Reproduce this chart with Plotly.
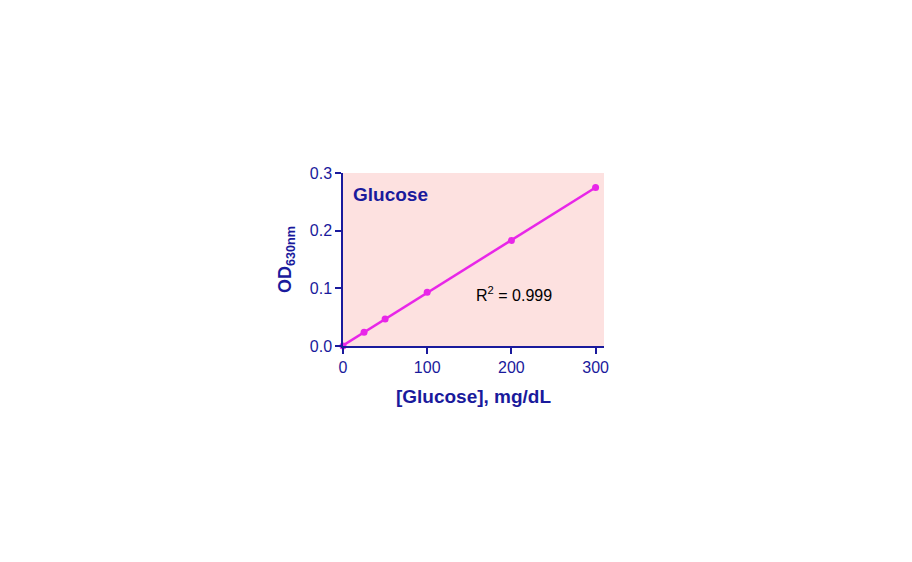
import numpy as np
import plotly.graph_objects as go

glucose = [0, 25, 50, 100, 200, 300]
od630 = [0.0, 0.024, 0.047, 0.093, 0.183, 0.275]
x_ticks = [0, 100, 200, 300]
y_ticks = [0.0, 0.1, 0.2, 0.3]
y_tick_labels = ["0.0", "0.1", "0.2", "0.3"]

slope, intercept = np.polyfit(glucose, od630, 1)
fit_x = [0, max(glucose)]
fit_y = [intercept + slope * v for v in fit_x]

blue = "#1a1a9c"
mag = "#e826e8"
font = "Liberation Sans, Arial, sans-serif"

fig = go.Figure()
fig.add_trace(go.Scatter(x=fit_x, y=fit_y, mode="lines",
                         line=dict(color=mag, width=2.5), showlegend=False,
                         cliponaxis=False))
fig.add_trace(go.Scatter(x=glucose, y=od630, mode="markers",
                         marker=dict(color=mag, size=7), showlegend=False,
                         cliponaxis=False))

fig.add_annotation(x=0.03, y=0.95, xref="paper", yref="paper", text="<b>Glucose</b>",
                   showarrow=False, xanchor="left", yanchor="top",
                   font=dict(family=font, size=19, color=blue))
fig.add_annotation(x=0.5, y=0.30, xref="paper", yref="paper", text="R<sup>2</sup> = 0.999",
                   showarrow=False, xanchor="left", yanchor="middle",
                   font=dict(family=font, size=16, color="black"))

fig.update_layout(
    width=912, height=562,
    margin=dict(l=335, r=316, t=165, b=224),
    paper_bgcolor="white", plot_bgcolor="#fde1e0",
    font=dict(family=font, color=blue),
    xaxis=dict(range=[0, 310], tickvals=x_ticks, showgrid=False, zeroline=False,
               showline=True, linecolor=blue, linewidth=1.5, ticks="outside",
               ticklen=6, tickcolor=blue, tickwidth=1.5,
               tickfont=dict(family=font, size=16, color=blue),
               title=dict(text="<b>[Glucose], mg/dL</b>", standoff=15,
                          font=dict(family=font, size=19, color=blue))),
    yaxis=dict(range=[0, 0.3], tickvals=y_ticks, ticktext=y_tick_labels, showgrid=False,
               zeroline=False, showline=True, linecolor=blue, linewidth=1.5,
               ticks="outside", ticklen=6, tickcolor=blue, tickwidth=1.5,
               tickfont=dict(family=font, size=16, color=blue),
               title=dict(text="<b>OD<sub>630nm</sub></b>", standoff=13,
                          font=dict(family=font, size=18, color=blue))),
)

fig.write_html("out.html")
